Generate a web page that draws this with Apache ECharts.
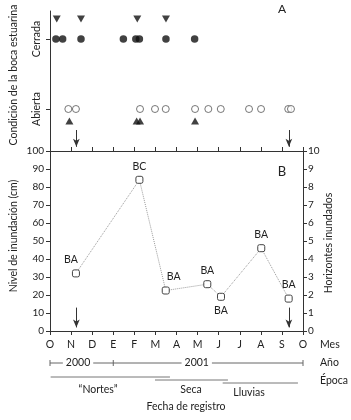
<!DOCTYPE html>
<html>
<head>
<meta charset="utf-8">
<script src="https://cdn.jsdelivr.net/npm/echarts@6/dist/echarts.min.js"></script>
<style>
  html, body { margin: 0; padding: 0; background: #fff; }
  #chart { width: 351px; height: 420px; }
</style>
</head>
<body>
<div id="chart"></div>
<script>
// months counted from 1 Oct 2000
var monthLabels = ['O', 'N', 'D', 'E', 'F', 'M', 'A', 'M', 'J', 'J', 'A', 'S', 'O'];

// panel A: estuary mouth condition
var closedTriMonths = [0.32, 1.47, 4.14, 5.50];
var closedMonths = [0.28, 0.60, 1.47, 3.48, 4.07, 4.24, 5.50, 6.86];
var openMonths = [0.87, 1.23, 4.27, 4.98, 5.49, 6.88, 7.51, 8.10, 9.44, 10.01, 11.30, 11.43];
var openTriMonths = [0.92, 4.11, 4.27, 6.88];

// panel B: flood level
var sampleMonths = [1.23, 4.24, 5.49, 7.46, 8.11, 10.02, 11.32];
var levelCm = [32, 84, 22.5, 26, 19, 46, 18];
var groupLabels = ['BA', 'BC', 'BA', 'BA', 'BA', 'BA', 'BA'];
var arrowMonths = [1.25, 11.33];

var years = ['2000', '2001'];
var yearBounds = [0, 3, 12];
var seasons = ['\u201cNortes\u201d', 'Seca', 'Lluvias'];
var seasonStart = [0.03, 4.98, 8.19];
var seasonEnd = [5.69, 8.44, 11.76];

var FONT = 'Lato';
var ink = '#222';

var myChart = echarts.init(document.getElementById('chart'));

function pts(xs, y) {
    return xs.map(function (m) { return [m, y]; });
}

var labelPos = ['top', 'top', 'top', 'top', 'bottom', 'top', 'top'];
var labelOff = [[-5, 0], [0, 0], [8, 0], [0, 0], [0, 0], [0, 0], [0, 0]];

var option = {
    animation: false,
    textStyle: { fontFamily: FONT, color: ink },
    grid: [
        { left: 50, right: 48, top: 11, height: 140 },
        { left: 50, right: 48, top: 151, height: 180 }
    ],
    xAxis: [
        {
            gridIndex: 0, type: 'value', min: 0, max: 12, interval: 1,
            axisLine: { lineStyle: { color: '#333' } },
            axisTick: { inside: true, length: 4, lineStyle: { color: '#333' } },
            axisLabel: { show: false },
            splitLine: { show: false }
        },
        {
            gridIndex: 1, type: 'value', min: 0, max: 12, interval: 1,
            axisLine: { lineStyle: { color: '#333' } },
            axisTick: { length: 4, lineStyle: { color: '#333' } },
            axisLabel: {
                margin: 8, fontSize: 10.5, color: ink, fontFamily: FONT,
                formatter: function (v) { return monthLabels[v]; }
            },
            splitLine: { show: false }
        }
    ],
    yAxis: [
        {
            gridIndex: 0, type: 'value', min: 0.4, max: 2.4,
            axisLine: { show: true, lineStyle: { color: '#333' } },
            axisTick: { show: true, length: 4, customValues: [1, 2], lineStyle: { color: '#333' } },
            axisLabel: {
                customValues: [1, 2], rotate: 90, margin: 8, fontSize: 10.5, color: ink, fontFamily: FONT,
                formatter: function (v) { return v === 2 ? 'Cerrada' : 'Abierta'; }
            },
            splitLine: { show: false }
        },
        {
            gridIndex: 1, type: 'value', min: 0, max: 100, interval: 10,
            axisLine: { show: true, lineStyle: { color: '#333' } },
            axisTick: { show: true, length: 4, lineStyle: { color: '#333' } },
            axisLabel: { margin: 6, fontSize: 10, color: ink, fontFamily: FONT },
            splitLine: { show: false }
        },
        {
            gridIndex: 1, type: 'value', min: 0, max: 10, interval: 1, position: 'right',
            axisLine: { show: true, lineStyle: { color: '#333' } },
            axisTick: { show: true, length: 4, lineStyle: { color: '#333' } },
            axisLabel: { margin: 5, fontSize: 10, color: ink, fontFamily: FONT },
            splitLine: { show: false }
        }
    ],
    series: [
        {
            name: 'closedTri', type: 'scatter', xAxisIndex: 0, yAxisIndex: 0,
            symbol: 'triangle', symbolRotate: 180, symbolSize: [8, 7], symbolOffset: [0, -20],
            itemStyle: { color: '#111' },
            data: pts(closedTriMonths, 2)
        },
        {
            name: 'closed', type: 'scatter', xAxisIndex: 0, yAxisIndex: 0,
            symbol: 'circle', symbolSize: 7.5,
            itemStyle: { color: '#111' },
            data: pts(closedMonths, 2)
        },
        {
            name: 'open', type: 'scatter', xAxisIndex: 0, yAxisIndex: 0,
            symbol: 'circle', symbolSize: 7,
            itemStyle: { color: '#fff', borderColor: '#555', borderWidth: 1 },
            data: pts(openMonths, 1),
            markLine: {
                silent: true, symbol: ['none', 'arrow'], symbolSize: [5, 8],
                label: { show: false },
                lineStyle: { color: '#333', type: 'solid', width: 1 },
                data: arrowMonths.map(function (m) {
                    return [{ coord: [m, 0.7] }, { coord: [m, 0.46] }];
                })
            }
        },
        {
            name: 'openTri', type: 'scatter', xAxisIndex: 0, yAxisIndex: 0,
            symbol: 'triangle', symbolSize: [8, 7], symbolOffset: [0, 12],
            itemStyle: { color: '#111' },
            data: pts(openTriMonths, 1)
        },
        {
            name: 'nivel', type: 'line', xAxisIndex: 1, yAxisIndex: 1,
            symbol: 'roundRect', symbolSize: [7, 7],
            itemStyle: { color: '#fff', borderColor: '#444', borderWidth: 1 },
            lineStyle: { color: '#999', type: 'dotted', width: 1 },
            data: sampleMonths.map(function (m, i) {
                return {
                    value: [m, levelCm[i]],
                    label: {
                        show: true, formatter: groupLabels[i], position: labelPos[i],
                        offset: labelOff[i], distance: 4,
                        fontSize: 10.5, color: ink, fontFamily: FONT
                    }
                };
            }),
            markLine: {
                silent: true, symbol: ['none', 'arrow'], symbolSize: [5, 8],
                label: { show: false },
                lineStyle: { color: '#333', type: 'solid', width: 1 },
                data: arrowMonths.map(function (m) {
                    return [{ coord: [m, 13] }, { coord: [m, 2] }];
                })
            }
        }
    ]
};

myChart.setOption(option);

// annotations under the axis, placed through the month scale
function px(m) {
    return myChart.convertToPixel({ xAxisIndex: 1 }, m);
}
var g = [];
function txt(x, y, s, opt) {
    g.push({
        type: 'text', x: x, y: y, rotation: (opt && opt.rot) || 0, silent: true,
        style: Object.assign({
            text: s, fontFamily: FONT, fontSize: 10.5, fill: ink,
            align: 'center', verticalAlign: 'middle'
        }, (opt && opt.style) || {})
    });
}
function ln(x1, y1, x2, y2, color) {
    g.push({
        type: 'line', silent: true,
        shape: { x1: x1, y1: y1, x2: x2, y2: y2 },
        style: { stroke: color || '#555', lineWidth: 1 }
    });
}

// axis titles
txt(14, 75, 'Condición de la boca estuarina', { rot: Math.PI / 2, style: { fontSize: 10.5 } });
txt(14, 236, 'Nivel de inundación (cm)', { rot: Math.PI / 2, style: { fontSize: 10.5 } });
txt(329, 243, 'Horizontes inundados', { rot: Math.PI / 2, style: { fontSize: 10.5 } });
txt(282, 9, 'A', { style: { fontSize: 12 } });
txt(282, 172, 'B', { style: { fontSize: 13 } });

// row names
txt(320, 345, 'Mes', { style: { align: 'left' } });
txt(320, 363, 'Año', { style: { align: 'left' } });
txt(320, 381, 'Época', { style: { align: 'left' } });

// year brackets
var yY = 363;
ln(px(yearBounds[0]), yY, px(yearBounds[yearBounds.length - 1]), yY, '#666');
yearBounds.forEach(function (b) { ln(px(b), yY - 3, px(b), yY + 3, '#666'); });
var yearTextAt = [1.33, 6.96];
years.forEach(function (y, i) {
    txt(px(yearTextAt[i]), yY, y, { style: { backgroundColor: '#fff', padding: [0, 3] } });
});

// seasons
var seasonLineY = [377, 380, 383];
var seasonTextAt = [2.28, 6.69, 9.44];
var seasonTextY = [390, 390, 393];
seasons.forEach(function (s, i) {
    ln(px(seasonStart[i]), seasonLineY[i], px(seasonEnd[i]), seasonLineY[i], '#777');
    txt(px(seasonTextAt[i]), seasonTextY[i], s);
});

txt(186, 407, 'Fecha de registro');

myChart.setOption({ graphic: g });
</script>
</body>
</html>
